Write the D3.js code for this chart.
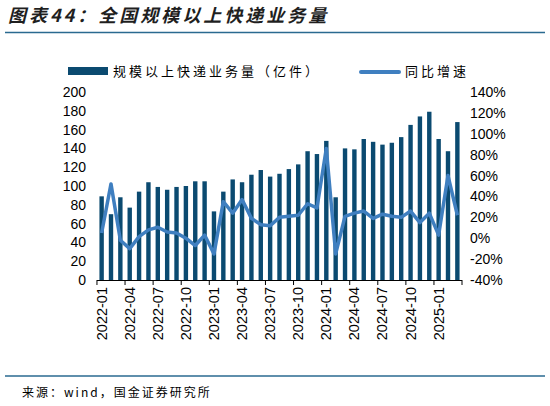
<!DOCTYPE html>
<html>
<head>
<meta charset="utf-8">
<script src="https://cdn.jsdelivr.net/npm/d3@7/dist/d3.min.js"></script>
<style>
  body { margin: 0; background: #fff; }
  svg { display: block; }
  .num { font-family: "Liberation Sans", Arial, sans-serif; }
  .cjk { font-family: "Noto Sans CJK SC", sans-serif; }
</style>
</head>
<body>
<div class="container"></div>
<script>
var months = ['2022-01','2022-02','2022-03','2022-04','2022-05','2022-06','2022-07','2022-08','2022-09','2022-10','2022-11','2022-12',
              '2023-01','2023-02','2023-03','2023-04','2023-05','2023-06','2023-07','2023-08','2023-09','2023-10','2023-11','2023-12',
              '2024-01','2024-02','2024-03','2024-04','2024-05','2024-06','2024-07','2024-08','2024-09','2024-10','2024-11','2024-12',
              '2025-01','2025-02','2025-03'];
// 规模以上快递业务量（亿件）
var volume = [89, 70, 88, 77, 94, 104, 99, 96, 99, 100, 105, 105,
              73, 94, 107, 104, 112, 117, 110, 113, 118, 123, 137, 134,
              148, 88, 140, 139, 150, 147, 144, 146, 152, 165, 174, 179,
              150, 137, 168];
// 同比增速 (%)
var growth = [5, 52, -2, -10, 1.5, 8, 10.5, 6, 5, 0, -7, 3,
              -15, 35, 24, 37, 19, 13, 12, 20, 21, 22, 33, 29,
              86, -15, 21, 24, 26, 19, 23, 21, 20, 26, 15, 24,
              3, 60, 22];
var leftTicks = [0, 20, 40, 60, 80, 100, 120, 140, 160, 180, 200];
var rightTicks = [-40, -20, 0, 20, 40, 60, 80, 100, 120, 140];

var width = 550, height = 406;
var plotLeft = 97, plotRight = 462, plotTop = 92, plotBottom = 280;
var barColor = '#0b4a70', lineColor = '#3f7fc0', ruleColor = '#2a6a90';

var svg = d3.select('.container')
            .append('svg')
            .attr('width', width)
            .attr('height', height);

// title
svg.append('text')
    .attr('class', 'cjk')
    .attr('x', 8)
    .attr('y', 22)
    .attr('font-size', 18)
    .attr('font-weight', 'bold')
    .attr('font-style', 'italic')
    .attr('letter-spacing', 3)
    .attr('fill', '#1f1f1f')
    .text('图表44：全国规模以上快递业务量');

svg.append('line')
    .attr('x1', 5).attr('x2', 545)
    .attr('y1', 32.5).attr('y2', 32.5)
    .attr('stroke', ruleColor)
    .attr('stroke-width', 1.5);

var x = d3.scaleBand()
          .domain(months)
          .range([plotLeft, plotRight])
          .paddingInner(0.53)
          .paddingOuter(0.26);

var yLeft = d3.scaleLinear().domain([0, 200]).range([plotBottom, plotTop]);
var yRight = d3.scaleLinear().domain([-40, 140]).range([plotBottom, plotTop]);

// bars
svg.selectAll('rect.bar')
    .data(volume)
    .enter()
    .append('rect')
    .attr('class', 'bar')
    .attr('x', function(d, i) { return x(months[i]); })
    .attr('y', function(d) { return yLeft(d); })
    .attr('width', x.bandwidth())
    .attr('height', function(d) { return yLeft(0) - yLeft(d); })
    .attr('fill', barColor);

// growth line
var line = d3.line()
             .x(function(d, i) { return x(months[i]) + x.bandwidth() / 2; })
             .y(function(d) { return yRight(d); });

svg.append('path')
    .datum(growth)
    .attr('d', line)
    .attr('fill', 'none')
    .attr('stroke', lineColor)
    .attr('stroke-width', 3.5)
    .attr('stroke-linejoin', 'round');

// left axis
var leftAxis = svg.append('g')
    .attr('class', 'num')
    .attr('transform', 'translate(86,0)')
    .call(d3.axisLeft(yLeft).tickValues(leftTicks).tickSize(0).tickPadding(0));
leftAxis.select('.domain').remove();
leftAxis.selectAll('text').attr('font-size', 14).attr('fill', '#000').attr('font-family', '"Liberation Sans", Arial, sans-serif');

// right axis
var rightAxis = svg.append('g')
    .attr('class', 'num')
    .attr('transform', 'translate(470,0)')
    .call(d3.axisRight(yRight).tickValues(rightTicks).tickSize(0).tickPadding(0)
             .tickFormat(function(d) { return d + '%'; }));
rightAxis.select('.domain').remove();
rightAxis.selectAll('text').attr('font-size', 14).attr('fill', '#000').attr('font-family', '"Liberation Sans", Arial, sans-serif');

// x axis
svg.append('line')
    .attr('x1', plotLeft).attr('x2', plotRight)
    .attr('y1', plotBottom + 0.5).attr('y2', plotBottom + 0.5)
    .attr('stroke', '#000')
    .attr('stroke-width', 1.2);

var step = x.step();
var tickMonths = months.filter(function(d, i) { return i % 3 === 0; });

svg.selectAll('line.xtick')
    .data(tickMonths.concat(['end']))
    .enter()
    .append('line')
    .attr('class', 'xtick')
    .attr('x1', function(d) { return d === 'end' ? plotRight : x(d) - x.bandwidth() * 0 - (x.step() - x.bandwidth()) / 2; })
    .attr('x2', function(d) { return d === 'end' ? plotRight : x(d) - (x.step() - x.bandwidth()) / 2; })
    .attr('y1', plotBottom)
    .attr('y2', plotBottom + 5)
    .attr('stroke', '#000')
    .attr('stroke-width', 1);

svg.selectAll('text.xlab')
    .data(tickMonths)
    .enter()
    .append('text')
    .attr('class', 'xlab num')
    .attr('transform', function(d) {
        return 'translate(' + (x(d) + x.bandwidth() / 2 + 5) + ',' + (plotBottom + 7) + ') rotate(-90)';
    })
    .attr('text-anchor', 'end')
    .attr('font-size', 14.5)
    .attr('fill', '#000')
    .text(function(d) { return d; });

// legend
svg.append('rect')
    .attr('x', 68).attr('y', 67)
    .attr('width', 40).attr('height', 8)
    .attr('fill', barColor);
svg.append('text')
    .attr('class', 'cjk')
    .attr('x', 113).attr('y', 76)
    .attr('font-size', 13)
    .attr('letter-spacing', 3)
    .attr('fill', '#000')
    .text('规模以上快递业务量（亿件）');

svg.append('line')
    .attr('x1', 361).attr('x2', 399)
    .attr('y1', 72).attr('y2', 72)
    .attr('stroke', lineColor)
    .attr('stroke-width', 4)
    .attr('stroke-linecap', 'round');
svg.append('text')
    .attr('class', 'cjk')
    .attr('x', 405).attr('y', 76)
    .attr('font-size', 13)
    .attr('letter-spacing', 3)
    .attr('fill', '#000')
    .text('同比增速');

// footer
svg.append('line')
    .attr('x1', 5).attr('x2', 545)
    .attr('y1', 376).attr('y2', 376)
    .attr('stroke', ruleColor)
    .attr('stroke-width', 1.5);
svg.append('text')
    .attr('class', 'cjk')
    .attr('x', 22).attr('y', 397)
    .attr('font-size', 12)
    .attr('letter-spacing', 2)
    .attr('fill', '#000')
    .text('来源：wind，国金证券研究所');
</script>
</body>
</html>
